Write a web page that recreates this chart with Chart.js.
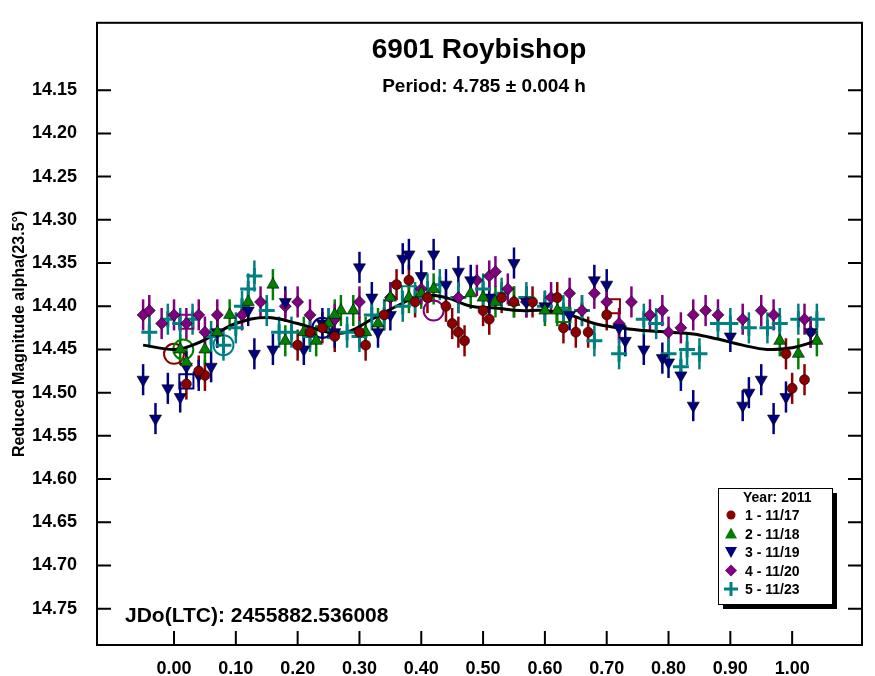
<!DOCTYPE html>
<html><head><meta charset="utf-8">
<script src="https://cdn.jsdelivr.net/npm/chart.js@4/dist/chart.umd.min.js"></script>
<style>html,body{margin:0;padding:0;background:#fff}#w{width:875px;height:676px}</style>
</head><body><div id="w"><canvas id="c"></canvas></div>
<script>
const xTicks=[0,0.1,0.2,0.3,0.4,0.5,0.6,0.7,0.8,0.9,1.0];
const yTicks=[14.15,14.20,14.25,14.30,14.35,14.40,14.45,14.50,14.55,14.60,14.65,14.70,14.75];
const s1=[[0.02,14.49],[0.05,14.48],[0.04,14.475],[0.20,14.445],[0.22,14.43],[0.24,14.425],[0.26,14.435],[0.31,14.445],[0.34,14.41],[0.36,14.375],[0.38,14.37],[0.39,14.395],[0.41,14.39],[0.44,14.40],[0.45,14.42],[0.46,14.43],[0.47,14.44],[0.50,14.405],[0.51,14.415],[0.53,14.39],[0.55,14.395],[0.58,14.395],[0.62,14.39],[0.63,14.425],[0.65,14.43],[0.67,14.43],[0.70,14.41],[0.99,14.455],[1.00,14.495],[1.02,14.485],[0.30,14.43]];
const s2=[[0.01,14.45],[0.02,14.465],[0.05,14.45],[0.07,14.43],[0.09,14.41],[0.12,14.395],[0.16,14.375],[0.18,14.44],[0.21,14.43],[0.23,14.44],[0.25,14.42],[0.27,14.405],[0.29,14.405],[0.31,14.43],[0.35,14.39],[0.38,14.39],[0.40,14.385],[0.42,14.38],[0.48,14.385],[0.50,14.39],[0.52,14.395],[0.55,14.395],[0.60,14.405],[0.62,14.405],[0.98,14.44],[1.01,14.455],[1.04,14.44],[0.33,14.42],[0.26,14.41]];
const s3=[[-0.05,14.485],[-0.03,14.53],[-0.01,14.495],[0.01,14.505],[0.02,14.47],[0.04,14.48],[0.06,14.47],[0.07,14.43],[0.12,14.405],[0.13,14.455],[0.16,14.45],[0.18,14.395],[0.21,14.45],[0.24,14.42],[0.30,14.355],[0.32,14.39],[0.37,14.345],[0.38,14.34],[0.40,14.365],[0.42,14.34],[0.44,14.375],[0.46,14.36],[0.48,14.37],[0.51,14.39],[0.55,14.35],[0.57,14.395],[0.60,14.40],[0.64,14.41],[0.68,14.37],[0.70,14.375],[0.72,14.425],[0.73,14.44],[0.76,14.45],[0.79,14.46],[0.80,14.465],[0.82,14.48],[0.84,14.515],[0.90,14.435],[0.92,14.515],[0.93,14.50],[0.95,14.485],[0.97,14.53],[0.99,14.505],[1.03,14.43],[0.26,14.43],[0.33,14.43],[0.35,14.41]];
const s4=[[-0.05,14.41],[-0.04,14.405],[-0.02,14.42],[0.00,14.41],[0.02,14.42],[0.04,14.41],[0.05,14.43],[0.07,14.41],[0.11,14.41],[0.14,14.395],[0.18,14.40],[0.20,14.395],[0.22,14.41],[0.26,14.415],[0.30,14.395],[0.35,14.39],[0.40,14.38],[0.46,14.39],[0.49,14.37],[0.51,14.365],[0.52,14.36],[0.54,14.38],[0.57,14.395],[0.61,14.39],[0.64,14.385],[0.66,14.405],[0.68,14.385],[0.70,14.395],[0.72,14.42],[0.74,14.395],[0.77,14.41],[0.79,14.405],[0.82,14.425],[0.84,14.41],[0.86,14.405],[0.88,14.41],[0.92,14.415],[0.95,14.405],[0.97,14.41],[1.02,14.415],[1.03,14.43],[0.80,14.43]];
const s5=[[-0.04,14.43],[-0.01,14.415],[0.01,14.42],[0.03,14.415],[0.06,14.435],[0.08,14.445],[0.10,14.425],[0.11,14.40],[0.12,14.38],[0.13,14.365],[0.15,14.405],[0.17,14.43],[0.19,14.43],[0.22,14.435],[0.25,14.42],[0.28,14.43],[0.30,14.435],[0.32,14.41],[0.34,14.41],[0.37,14.40],[0.39,14.39],[0.41,14.38],[0.43,14.375],[0.46,14.39],[0.50,14.38],[0.53,14.385],[0.57,14.39],[0.60,14.40],[0.63,14.405],[0.66,14.405],[0.68,14.44],[0.72,14.455],[0.76,14.415],[0.78,14.42],[0.80,14.455],[0.82,14.47],[0.83,14.45],[0.85,14.455],[0.88,14.42],[0.90,14.42],[0.93,14.425],[0.96,14.425],[0.98,14.42],[1.01,14.415],[1.04,14.415]];
const fit=[[-0.05,14.445],[0.0,14.45],[0.03,14.445],[0.06,14.435],[0.10,14.42],[0.15,14.413],[0.20,14.42],[0.25,14.43],[0.28,14.43],[0.32,14.415],[0.36,14.40],[0.40,14.388],[0.44,14.39],[0.48,14.40],[0.52,14.402],[0.56,14.405],[0.60,14.405],[0.64,14.41],[0.68,14.42],[0.72,14.425],[0.76,14.428],[0.80,14.43],[0.84,14.432],[0.88,14.438],[0.92,14.445],[0.96,14.45],[1.00,14.448],[1.04,14.44]];
const circ=[[0.00,14.455,'#8b0000'],[0.015,14.45,'#008000'],[0.08,14.445,'#008080'],[0.24,14.425,'#000080'],[0.42,14.405,'#800080']];
const sq=[[0.02,14.418,'#800080'],[0.02,14.487,'#000080'],[0.38,14.385,'#008080'],[0.71,14.40,'#8b0000'],[0.63,14.41,'#008000']];
const P=a=>a.map(p=>({x:p[0],y:p[1]}));
const F='"Liberation Sans", Arial, sans-serif';
const ser=[
 {d:s1,c:'#8b0000',st:'circle',r:5,name:'1 - 11/17'},
 {d:s2,c:'#008000',st:'triangle',r:7,name:'2 - 11/18'},
 {d:s3,c:'#000080',st:'triangle',r:7,rot:180,name:'3 - 11/19'},
 {d:s4,c:'#800080',st:'rectRot',r:6,name:'4 - 11/20'},
 {d:s5,c:'#008080',st:'cross',r:8,name:'5 - 11/23'}];
const datasets=ser.map(s=>({label:s.name,data:P(s.d),pointStyle:s.st,pointRadius:s.r,pointRotation:s.rot||0,
 backgroundColor:s.c,borderColor:s.st==='cross'?s.c:'#000',borderWidth:s.st==='cross'?3:0.6,showLine:false}));
datasets.push({label:'fit',data:P(fit),showLine:true,borderColor:'#000',borderWidth:3,pointRadius:0,tension:0.4,fill:false});
datasets.push({label:'c',data:P(circ),pointStyle:'circle',pointRadius:10,backgroundColor:'rgba(0,0,0,0)',borderColor:circ.map(p=>p[2]),borderWidth:2,showLine:false});
datasets.push({label:'s',data:P(sq),pointStyle:'rect',pointRadius:10,backgroundColor:'rgba(0,0,0,0)',borderColor:sq.map(p=>p[2]),borderWidth:2,showLine:false});
const deco={id:'deco',
 beforeDatasetsDraw(ch){const c=ch.ctx,x=ch.scales.x,y=ch.scales.y;c.save();c.lineWidth=2.5;
  ser.forEach(s=>{c.strokeStyle=s.c;s.d.forEach(p=>{const px=x.getPixelForValue(p[0]);c.beginPath();c.moveTo(px,y.getPixelForValue(p[1]-0.018));c.lineTo(px,y.getPixelForValue(p[1]+0.018));c.stroke();});});c.restore();},
 afterDraw(ch){const c=ch.ctx,a=ch.chartArea,x=ch.scales.x,y=ch.scales.y;c.save();
  c.strokeStyle='#000';c.lineWidth=2;c.strokeRect(a.left,a.top,a.right-a.left,a.bottom-a.top);
  c.beginPath();yTicks.forEach(v=>{const py=y.getPixelForValue(v);c.moveTo(a.left,py);c.lineTo(a.left+14,py);c.moveTo(a.right,py);c.lineTo(a.right-14,py);});
  xTicks.forEach(v=>{const px=x.getPixelForValue(v);c.moveTo(px,a.bottom);c.lineTo(px,a.bottom-14);});c.stroke();
  c.fillStyle='#000';c.textAlign='center';c.textBaseline='alphabetic';
  c.font='bold 28px '+F;c.fillText('6901 Roybishop',479,58);
  c.font='bold 19px '+F;c.fillText('Period: 4.785 \u00b1 0.004 h',484,92);
  c.textAlign='left';c.font='bold 21px '+F;c.fillText('JDo(LTC): 2455882.536008',125,622);
  const lx=718,ly=488,lw=114,lh=116;c.fillStyle='#000';c.fillRect(lx+5,ly+5,lw,lh);c.fillStyle='#fff';c.fillRect(lx,ly,lw,lh);
  c.lineWidth=1;c.strokeRect(lx+0.5,ly+0.5,lw,lh);
  c.fillStyle='#000';c.font='bold 14px '+F;c.fillText('Year: 2011',743,502);
  ser.forEach((s,i)=>{const ty=520+i*18.5;c.fillText(s.name,745,ty);const cx=731,cy=ty-5;c.fillStyle=s.c;c.strokeStyle=s.c;c.beginPath();
   if(i==0){c.arc(cx,cy,4.5,0,7);c.fill();}
   else if(i==1){c.moveTo(cx,cy-6);c.lineTo(cx+6,cy+5);c.lineTo(cx-6,cy+5);c.fill();}
   else if(i==2){c.moveTo(cx,cy+6);c.lineTo(cx+6,cy-5);c.lineTo(cx-6,cy-5);c.fill();}
   else if(i==3){c.moveTo(cx,cy-6);c.lineTo(cx+6,cy);c.lineTo(cx,cy+6);c.lineTo(cx-6,cy);c.fill();}
   else {c.lineWidth=3;c.moveTo(cx-7,cy);c.lineTo(cx+7,cy);c.moveTo(cx,cy-7);c.lineTo(cx,cy+7);c.stroke();c.lineWidth=1;}
   c.fillStyle='#000';});
  c.restore();}};
new Chart(document.getElementById('c'),{type:'scatter',data:{datasets},plugins:[deco],
 options:{responsive:true,maintainAspectRatio:false,animation:false,
  layout:{padding:{top:-4,right:13,left:0,bottom:0}},
  plugins:{legend:{display:false},tooltip:{enabled:false}},
  scales:{
   x:{type:'linear',min:-0.1246,max:1.113,grid:{display:false},border:{display:false},
    afterBuildTicks:s=>{s.ticks=xTicks.map(v=>({value:v}));},
    afterFit:s=>{s.height=31;},
    ticks:{color:'#000',font:{family:F,size:18,weight:'bold'},padding:5,callback:v=>v.toFixed(2),maxRotation:0,autoSkip:false}},
   y:{type:'linear',reverse:true,min:14.072,max:14.792,grid:{display:false},border:{display:false},
    afterBuildTicks:s=>{s.ticks=yTicks.map(v=>({value:v}));},
    afterFit:s=>{s.width=97;},
    title:{display:true,text:'Reduced Magnitude alpha(23.5°)',color:'#000',font:{family:F,size:16,weight:'bold'},padding:{top:10,bottom:2}},
    ticks:{color:'#000',font:{family:F,size:18,weight:'bold'},padding:12,callback:v=>v.toFixed(2),autoSkip:false}}
  }}});
</script></body></html>
